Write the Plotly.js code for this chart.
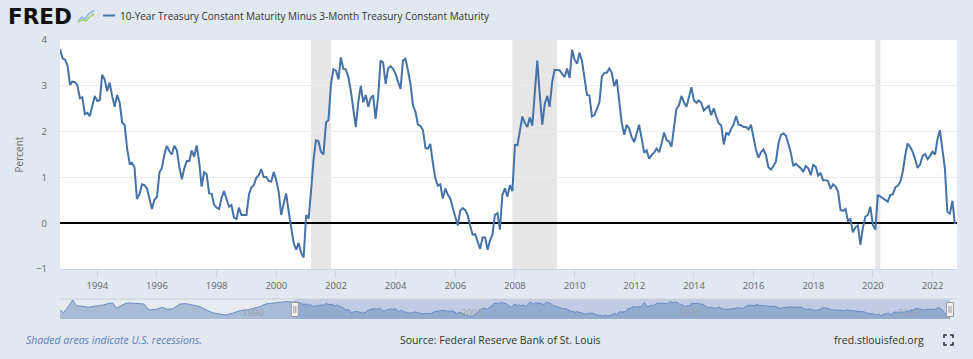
<!DOCTYPE html>
<html><head><meta charset="utf-8">
<script src="https://cdn.plot.ly/plotly-3.0.1.min.js"></script>
<style>html,body{margin:0;padding:0;background:#e1e8f0;}#chart{width:973px;height:359px;}</style>
</head><body><div id="chart"></div>
<script>
const seriesName = '10-Year Treasury Constant Maturity Minus 3-Month Treasury Constant Maturity';
const startYear = 1992, startMonth = 10; // monthly observations, Oct 1992 - Oct 2022
const spread_1992_1999 = [
 3.80,3.60,3.57,3.44,3.02,3.09,3.08,3.02,2.73,2.75,
 2.38,2.41,2.34,2.59,2.78,2.67,2.69,3.24,3.14,2.88,
 3.07,2.78,2.54,2.80,2.64,2.20,2.15,1.63,1.30,1.32,
 1.22,0.53,0.63,0.85,0.83,0.76,0.54,0.31,0.51,0.57,
 1.11,1.20,1.50,1.69,1.57,1.50,1.69,1.59,1.23,0.96,
 1.20,1.36,1.36,1.59,1.45,1.70,1.34,0.80,1.11,1.07,
 0.65,0.64,0.40,0.34,0.31,0.54,0.70,0.54,0.36,0.40,
 0.12,0.09,0.34,0.18,0.18,0.18,0.63,0.78,0.83,0.99,
 1.05,1.18,1.01,1.01,0.92,0.91,1.12];
const spread_2000_2009 = [
 0.94,0.67,0.18,
 0.43,0.65,0.25,-0.11,-0.43,-0.58,-0.43,-0.65,-0.75,0.18,
 0.10,0.69,1.38,1.81,1.79,1.56,1.50,2.20,2.25,3.04,
 3.36,3.33,3.14,3.62,3.37,3.36,3.19,2.90,2.54,2.10,
 2.64,3.00,2.64,2.80,2.54,2.73,2.79,2.28,2.75,3.55,
 3.51,3.04,3.38,3.43,3.37,3.26,3.08,2.93,3.55,3.59,
 3.33,3.04,2.57,2.43,2.15,2.12,2.03,1.64,1.63,1.73,
 1.32,0.98,0.82,0.85,0.54,0.76,0.62,0.54,0.33,0.14,
 -0.05,0.27,0.33,0.29,0.18,-0.05,-0.25,-0.24,-0.40,-0.56,
 -0.31,-0.31,-0.58,-0.38,-0.25,0.18,0.22,-0.14,0.62,0.76,
 0.58,0.83,0.70,1.71,1.70,2.06,2.33,2.19,2.10,2.31,
 2.13,2.86,3.55,2.79,2.15,2.61,2.78,2.54,3.08,3.35,
 3.35,3.34,3.26,3.19,3.38,3.17,3.79];
const spread_2010_2019 = [
 3.57,3.48,3.72,
 3.55,3.22,2.80,2.79,2.33,2.36,2.49,2.64,3.21,3.28,
 3.29,3.38,3.29,2.99,3.14,2.72,2.19,1.93,2.15,2.06,
 1.88,1.77,1.99,2.15,1.85,1.54,1.59,1.41,1.49,1.54,
 1.63,1.55,1.74,1.98,1.81,1.79,1.67,2.12,2.50,2.57,
 2.78,2.64,2.54,2.75,2.97,2.68,2.63,2.68,2.63,2.46,
 2.51,2.56,2.36,2.51,2.33,2.18,2.14,1.72,1.98,1.93,
 2.06,2.15,2.34,2.15,2.14,2.10,2.10,2.05,2.15,1.85,
 1.59,1.43,1.55,1.61,1.48,1.22,1.17,1.25,1.35,1.74,
 1.93,1.96,1.91,1.74,1.54,1.25,1.30,1.25,1.20,1.12,
 1.25,1.20,1.05,1.27,1.23,1.04,1.09,0.94,0.94,0.92,
 0.75,0.85,0.80,0.69,0.29,0.27,0.31,0.05,0.09,-0.20,
 -0.09,-0.05,-0.47,-0.10,0.14,0.18,0.36];
const spread_2020_2022 = [
 -0.04,-0.14,0.62,
 0.58,0.54,0.50,0.47,0.62,0.63,0.78,0.82,0.90,1.12,
 1.49,1.74,1.67,1.56,1.40,1.21,1.28,1.47,1.51,1.40,
 1.47,1.56,1.50,1.83,2.03,1.63,1.19,0.25,0.21,0.49,
 -0.02];
const recessions = [['2001-03-01','2001-11-01'],['2007-12-01','2009-06-01'],['2020-02-01','2020-04-01']];
const xTickStart = '1994-01-01';
const yTickVals = [-1,0,1,2,3,4];
// navigator: earlier history (1982 - 1992) read from the small overview strip
const navHistDates = ['1982-01-01','1982-03-01','1982-05-01','1982-08-01','1982-10-01','1983-01-01','1983-05-01','1983-09-01',
 '1984-01-01','1984-04-01','1984-06-01','1984-08-01','1984-10-01','1985-01-01','1985-03-01','1985-07-01','1985-11-01',
 '1986-02-01','1986-06-01','1986-09-01','1986-12-01','1987-03-01','1987-07-01','1987-10-01','1988-02-01','1988-06-01',
 '1988-10-01','1989-01-01','1989-05-01','1989-08-01','1989-12-01','1990-04-01','1990-08-01','1990-11-01','1991-03-01',
 '1991-06-01','1991-10-01','1992-02-01','1992-05-01','1992-09-01'];
const navHistValues = [1.27,0.45,1.8,4.3,2.6,2.3,2.1,2.5,2.8,3.3,3.4,1.8,2.3,3.3,3.4,3.3,3.1,1.27,1.5,2.1,1.5,1.6,3.1,3.2,
 2.8,2.3,1.1,0.45,0.0,-0.2,0.3,1.1,1.3,1.8,2.3,3.1,3.4,3.7,3.8,3.7];
const navLabels = ['1990','2000','2010','2020'];
const footerLeft = 'Shaded areas indicate U.S. recessions.';
const footerSource = 'Source: Federal Reserve Bank of St. Louis';
const footerRight = 'fred.stlouisfed.org';

// ---- build ----
const values = [].concat(spread_1992_1999, spread_2000_2009, spread_2010_2019, spread_2020_2022);
const pad = n => (n < 10 ? '0' : '') + n;
const dates = values.map((_, i) => {
  const k = startMonth - 1 + i;
  return (startYear + Math.floor(k / 12)) + '-' + pad(k % 12 + 1) + '-01';
});
const navDates = navHistDates.concat(dates);
const navValues = navHistValues.concat(values);

const W = 973, H = 359, ML = 60, MR = 16, MT = 40, MB = 40;
const PW = W - ML - MR, PH = H - MT - MB;
const px = x => (x - ML) / PW;
const py = y => (H - MB - y) / PH;
const P = (x, y) => px(x).toFixed(5) + ',' + py(y).toFixed(5);
const mainBottom = py(269), navTop = py(299);
const NAV_MIN = -1.45, NAV_MAX = 4.6;
const font = 'Open Sans, Noto Sans, sans-serif';
const blue = '#4572a7';

const traces = [
  {x: dates, y: values, type: 'scatter', mode: 'lines', name: seriesName,
   line: {color: blue, width: 2}, xaxis: 'x', yaxis: 'y', hoverinfo: 'skip', showlegend: false},
  {x: [navDates[0], navDates[navDates.length - 1]], y: [NAV_MIN, NAV_MIN], type: 'scatter', mode: 'lines',
   line: {width: 0}, xaxis: 'x2', yaxis: 'y2', hoverinfo: 'skip', showlegend: false},
  {x: navDates, y: navValues, type: 'scatter', mode: 'lines', fill: 'tonexty',
   fillcolor: 'rgba(69,114,167,0.38)', line: {color: '#6a8cc2', width: 1},
   xaxis: 'x2', yaxis: 'y2', hoverinfo: 'skip', showlegend: false}
];

const shapes = [];
recessions.forEach(r => shapes.push({type: 'rect', xref: 'x', yref: 'y domain', x0: r[0], x1: r[1], y0: 0, y1: 1,
  fillcolor: '#e6e6e6', line: {width: 0}, layer: 'below'}));
shapes.push({type: 'rect', xref: 'paper', yref: 'paper', x0: 0, x1: 1, y0: 0, y1: navTop,
  fillcolor: '#e6ebf2', line: {width: 0}, layer: 'below'});
shapes.push({type: 'rect', xref: 'x2', yref: 'paper', x0: dates[0], x1: dates[dates.length - 1], y0: 0, y1: navTop,
  fillcolor: 'rgba(102,133,194,0.3)', line: {width: 0}, layer: 'above'});
shapes.push({type: 'line', xref: 'paper', yref: 'paper', x0: 0, x1: 1, y0: navTop, y1: navTop,
  line: {color: '#c8d0da', width: 1}});
[dates[0], dates[dates.length - 1]].forEach(d => {
  shapes.push({type: 'rect', xref: 'x2', yref: 'paper', xsizemode: 'pixel', ysizemode: 'pixel',
    xanchor: d, yanchor: py(309.5), x0: -3.5, x1: 3.5, y0: -7, y1: 7,
    fillcolor: '#f2f2f2', line: {color: '#999999', width: 1}, layer: 'above'});
  shapes.push({type: 'path', xref: 'x2', yref: 'paper', xsizemode: 'pixel', ysizemode: 'pixel',
    xanchor: d, yanchor: py(309.5), path: 'M-1,-3.5 L-1,3.5 M1,-3.5 L1,3.5',
    line: {color: '#999999', width: 1}, layer: 'above'});
});
shapes.push({type: 'line', xref: 'paper', yref: 'paper', x0: px(103), x1: px(115), y0: py(15.5), y1: py(15.5),
  line: {color: blue, width: 2}});
shapes.push({type: 'path', xref: 'paper', yref: 'paper',
  path: 'M' + P(78, 21) + ' L' + P(82, 17) + ' L' + P(85, 19) + ' L' + P(89, 13.5) + ' L' + P(94, 10.5),
  line: {color: '#8fb4e0', width: 1.5}});
shapes.push({type: 'path', xref: 'paper', yref: 'paper',
  path: 'M' + P(78, 22.5) + ' L' + P(82, 19.5) + ' L' + P(86, 21) + ' L' + P(90, 16.5) + ' L' + P(94, 14),
  line: {color: '#9fcf6a', width: 1.5}});
shapes.push({type: 'path', xref: 'paper', yref: 'paper',
  path: 'M' + P(944, 338) + ' L' + P(944, 335) + ' L' + P(947, 335) +
        ' M' + P(950, 335) + ' L' + P(953, 335) + ' L' + P(953, 338) +
        ' M' + P(944, 342) + ' L' + P(944, 345) + ' L' + P(947, 345) +
        ' M' + P(950, 345) + ' L' + P(953, 345) + ' L' + P(953, 342),
  line: {color: '#333333', width: 1.6}});

const ann = (text, x, y, opts) => Object.assign({text: text, xref: 'paper', yref: 'paper', x: px(x), y: py(y),
  xanchor: 'left', yanchor: 'middle', showarrow: false, borderpad: 0,
  font: {family: font, size: 10.5, color: '#333333'}}, opts || {});
const annotations = [
  ann('<b>FRED</b>', 7, 16, {font: {family: 'DejaVu Sans, sans-serif', size: 21.5, color: '#111111'}}),
  ann(seriesName, 119, 15.5, {font: {family: font, size: 10, color: '#333333'}}),
  ann(footerLeft, 25, 340, {font: {family: font, size: 10.5, color: '#5a7dba', style: 'italic'}}),
  ann(footerSource, 399, 340),
  ann(footerRight, 833, 340)
];
navLabels.forEach(t => annotations.push({text: t, xref: 'x2', yref: 'paper', x: t + '-03-01', y: py(312),
  xanchor: 'left', yanchor: 'middle', showarrow: false, borderpad: 0, xshift: 3,
  font: {family: font, size: 9.5, color: '#9aa3ad'}}));

const layout = {
  width: W, height: H,
  margin: {l: ML, r: MR, t: MT, b: MB, pad: 0},
  paper_bgcolor: '#e1e8f0', plot_bgcolor: '#ffffff',
  font: {family: font, color: '#666666'},
  showlegend: false,
  xaxis: {type: 'date', domain: [0, 1], anchor: 'y', range: [dates[0], '2022-10-27'],
    tick0: xTickStart, dtick: 'M24', tickformat: '%Y', ticks: 'outside', ticklen: 8, tickwidth: 1,
    tickcolor: '#ccd6eb', showgrid: false, showline: true, linecolor: '#ccd6eb', linewidth: 1,
    zeroline: false, tickfont: {family: font, size: 9.5, color: '#666666'}, fixedrange: true},
  yaxis: {domain: [mainBottom, 1], anchor: 'x', range: [-1, 4], tickvals: yTickVals,
    gridcolor: '#ebebeb', gridwidth: 1, zeroline: true, zerolinecolor: '#000000', zerolinewidth: 2,
    showline: false, ticks: '', ticklabelstandoff: 12, tickfont: {family: font, size: 9.5, color: '#666666'},
    title: {text: 'Percent', font: {family: font, size: 10, color: '#666666'}, standoff: 10}, fixedrange: true},
  xaxis2: {type: 'date', domain: [0, 1], anchor: 'y2', range: [navDates[0], '2023-01-25'],
    showticklabels: false, showgrid: false, zeroline: false, showline: false, ticks: '', fixedrange: true},
  yaxis2: {domain: [0, navTop], anchor: 'x2', range: [NAV_MIN, NAV_MAX], showticklabels: false,
    showgrid: false, zeroline: false, showline: false, ticks: '', fixedrange: true},
  shapes: shapes,
  annotations: annotations
};

Plotly.newPlot('chart', traces, layout, {displayModeBar: false, staticPlot: true});
</script></body></html>
